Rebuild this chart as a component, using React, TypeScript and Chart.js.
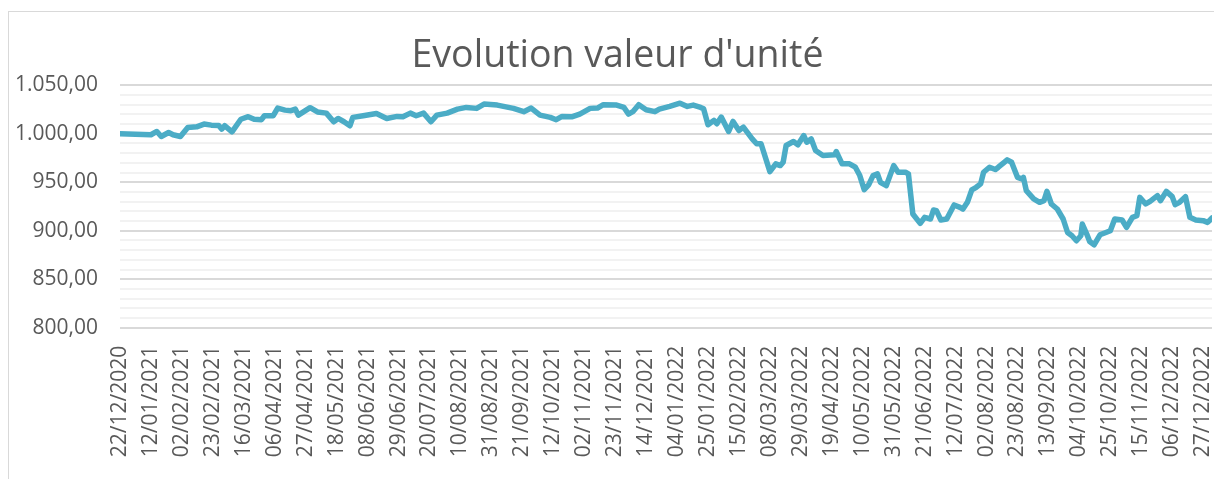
import React, { useEffect, useRef } from "react";
import { Chart, registerables } from "chart.js";

Chart.register(...registerables);

const chartTitle = "Evolution valeur d'unité";

// day offsets from 22/12/2020
const days = [
  0, 21, 25, 28, 33, 36, 41, 46, 52, 57,
  62, 67, 69, 71, 76, 82, 87, 91, 96, 98,
  104, 107, 112, 116, 119, 121, 129, 134, 140, 145,
  148, 152, 156, 158, 165, 174, 181, 188, 192, 197,
  201, 206, 211, 215, 222, 229, 235, 242, 247, 256,
  267, 274, 279, 285, 292, 296, 300, 307, 312, 319,
  324, 328, 337, 342, 345, 348, 352, 357, 363, 366,
  373, 380, 385, 389, 394, 396, 399, 403, 405, 408,
  413, 416, 420, 423, 429, 432, 435, 441, 445, 448,
  450, 452, 457, 460, 464, 466, 469, 472, 477, 485,
  486, 490, 495, 499, 502, 505, 508, 511, 514, 516,
  520, 525, 528, 533, 535, 538, 543, 546, 550, 552,
  554, 557, 561, 566, 570, 572, 575, 578, 581, 584,
  586, 590, 594, 596, 600, 602, 605, 609, 612, 613,
  615, 620, 624, 627, 629, 632, 636, 640, 643, 646,
  649, 652, 653, 656, 658, 661, 665, 669, 672, 675,
  680, 683, 687, 690, 692, 696, 699, 704, 706, 710,
  714, 716, 719, 723, 726, 730, 735, 738, 741,
];

const values = [
  1000, 999, 1002.4, 997.2, 1001.3, 999, 997.2, 1006.5, 1007.2, 1010,
  1008.9, 1008.6, 1004.8, 1008.3, 1002, 1015, 1017.6, 1015, 1014.5, 1018.6,
  1018.6, 1026.5, 1024.4, 1023.8, 1025.4, 1019.2, 1026.9, 1022.5, 1021.3, 1012.4,
  1015.8, 1012.4, 1008.3, 1016.9, 1018.6, 1021, 1015.8, 1017.9, 1017.6, 1021.3,
  1018.6, 1021.3, 1012.4, 1019.2, 1021.3, 1025.4, 1027.2, 1026.2, 1030.6, 1029.6,
  1026.2, 1022.8, 1026.5, 1019.2, 1016.9, 1014.5, 1017.9, 1017.6, 1020.3, 1026.2,
  1026.5, 1030, 1029.6, 1027.2, 1020.3, 1022.8, 1030, 1024.8, 1022.8, 1025.4,
  1028.2, 1031.6, 1028.2, 1029.6, 1027.2, 1025.8, 1009.3, 1013.8, 1010.3, 1017.2,
  1002.4, 1012.7, 1003.4, 1006.9, 994.8, 989.7, 989.7, 961, 969, 967.2,
  970.6, 987.9, 992, 988.6, 998.2, 991.3, 994.8, 982.7, 977.6, 978.3,
  981.7, 969, 969, 965.5, 956.9, 942.4, 947.3, 956.9, 958.6, 950,
  946.5, 967.2, 960.3, 960.3, 958.6, 917.3, 907.6, 913.8, 912.1, 921.4,
  920.7, 911.1, 912.1, 926.6, 924.1, 922.4, 929.3, 942.1, 944.8, 948.3,
  960.3, 965.5, 963.1, 965.5, 970.6, 973.1, 970.6, 955.1, 953.5, 955.1,
  941.4, 932.8, 929.3, 931, 940.6, 927.6, 922.4, 912.1, 898.2, 894.8,
  889.7, 894.8, 906.9, 896.6, 888.9, 885.5, 895.8, 898.2, 900, 912.1,
  911.1, 903.4, 913.8, 915.5, 934.4, 927.6, 930.3, 936.2, 931, 940.6,
  935.2, 926.9, 929.3, 935.2, 913.8, 911.1, 910.4, 908.6, 913.1,
];

const xTickLabels = [
  "22/12/2020", "12/01/2021", "02/02/2021", "23/02/2021", "16/03/2021", "06/04/2021",
  "27/04/2021", "18/05/2021", "08/06/2021", "29/06/2021", "20/07/2021", "10/08/2021",
  "31/08/2021", "21/09/2021", "12/10/2021", "02/11/2021", "23/11/2021", "14/12/2021",
  "04/01/2022", "25/01/2022", "15/02/2022", "08/03/2022", "29/03/2022", "19/04/2022",
  "10/05/2022", "31/05/2022", "21/06/2022", "12/07/2022", "02/08/2022", "23/08/2022",
  "13/09/2022", "04/10/2022", "25/10/2022", "15/11/2022", "06/12/2022", "27/12/2022",
];
const xTickStepDays = 21;
const xMaxDay = 741;

const yTickLabels = ["800,00", "850,00", "900,00", "950,00", "1.000,00", "1.050,00"];
const yMin = 800;
const yMax = 1050;

const CANVAS_W = 1219;
const CANVAS_H = 467;

// the chart frame is wider than the window, so the title sits right of the visible centre
const titleShift = {
  id: "titleShift",
  afterLayout(chart: any) {
    const tb = chart.titleBlock;
    if (tb) {
      tb.left += 7;
      tb.right += 7;
    }
  },
};

export default function App() {
  const ref = useRef<HTMLCanvasElement | null>(null);

  useEffect(() => {
    if (!ref.current) return;
    const tickColor = "#595959";
    const chart = new Chart(ref.current, {
      type: "line",
      data: {
        datasets: [
          {
            data: days.map((d, i) => ({ x: d, y: values[i] })),
            borderColor: "#4BACC6",
            borderWidth: 5.5,
            pointRadius: 0,
            tension: 0,
            borderJoinStyle: "round",
            borderCapStyle: "round",
            fill: false,
          },
        ],
      },
      options: {
        animation: false,
        responsive: false,
        devicePixelRatio: 1,
        layout: { padding: { left: 0, right: 16, top: 0, bottom: 0 } },
        plugins: {
          legend: { display: false },
          tooltip: { enabled: false },
          title: {
            display: true,
            text: chartTitle,
            color: tickColor,
            font: { family: "'Open Sans', sans-serif", size: 37.5, weight: "normal", lineHeight: 1.2 },
            padding: { top: 21.6, bottom: 6.7 },
          },
        },
        scales: {
          x: {
            type: "linear",
            min: 0,
            max: xMaxDay,
            grid: { display: false, drawTicks: false },
            border: { display: false },
            ticks: {
              stepSize: xTickStepDays,
              includeBounds: false,
              autoSkip: false,
              maxRotation: 90,
              minRotation: 90,
              padding: 18,
              color: tickColor,
              font: { family: "'Open Sans', sans-serif", size: 21 },
              callback: (v: any) => {
                const n = Number(v);
                if (n % xTickStepDays !== 0) return "";
                return xTickLabels[n / xTickStepDays] ?? "";
              },
            },
            afterFit: (scale: any) => {
              scale.height = CANVAS_H - 315.7;
              scale.paddingLeft = 0;
              scale.paddingRight = 0;
            },
          },
          y: {
            type: "linear",
            min: yMin,
            max: yMax,
            grid: {
              drawTicks: false,
              lineWidth: 2,
              color: (ctx: any) =>
                ctx.tick && Math.round(ctx.tick.value) % 50 === 0 ? "#d9d9d9" : "#f2f2f2",
            },
            border: { display: false },
            ticks: {
              stepSize: 10,
              autoSkip: false,
              padding: 22,
              color: tickColor,
              font: { family: "'Open Sans', sans-serif", size: 21 },
              callback: (v: any) => {
                const n = Math.round(Number(v));
                if (n % 50 !== 0) return "";
                return yTickLabels[(n - yMin) / 50] ?? "";
              },
            },
            afterFit: (scale: any) => {
              scale.width = 111;
            },
          },
        },
      },
      plugins: [titleShift],
    });
    return () => chart.destroy();
  }, []);

  return (
    <div
      style={{
        position: "absolute",
        left: 8,
        top: 11,
        width: 1206,
        height: 468,
        borderLeft: "1px solid #d9d9d9",
        borderTop: "1px solid #d9d9d9",
        boxSizing: "border-box",
        background: "#ffffff",
        overflow: "hidden",
      }}
    >
      <canvas
        ref={ref}
        width={CANVAS_W}
        height={CANVAS_H}
        style={{ display: "block", width: CANVAS_W, height: CANVAS_H }}
      />
    </div>
  );
}
